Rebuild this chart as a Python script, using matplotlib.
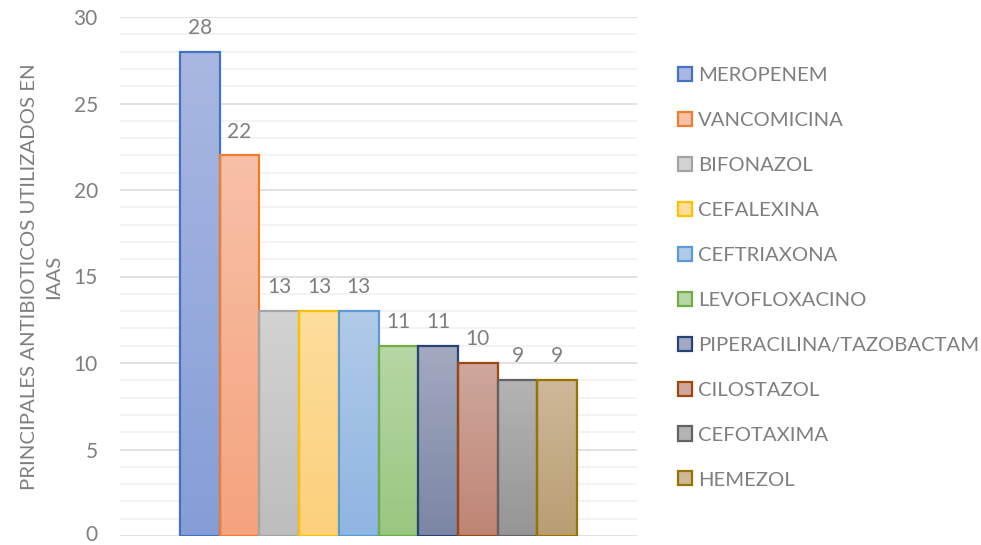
import numpy as np
import matplotlib
matplotlib.use("Agg")
import matplotlib.pyplot as plt
from matplotlib.patches import Patch
from matplotlib.colors import to_rgb
from matplotlib.transforms import ScaledTranslation

# Antibiotics and usage counts
antibioticos = ["MEROPENEM", "VANCOMICINA", "BIFONAZOL", "CEFALEXINA", "CEFTRIAXONA",
                "LEVOFLOXACINO", "PIPERACILINA/TAZOBACTAM", "CILOSTAZOL", "CEFOTAXIMA", "HEMEZOL"]
valores = [28, 22, 13, 13, 13, 11, 11, 10, 9, 9]

# Outline colours and gradient fills (top, bottom)
bordes = ["#4472C4", "#ED7D31", "#A5A5A5", "#FFC000", "#5B9BD5",
          "#70AD47", "#264478", "#9E480E", "#636363", "#997300"]
relleno_sup = ["#A9B8E2", "#F8C0A6", "#D3D3D3", "#FDDE9C", "#B1CAE8",
               "#B6D7A6", "#A3A9C0", "#CFA79C", "#B4B4B4", "#CDB899"]
relleno_inf = ["#859ED7", "#F5A37E", "#BDBDBD", "#FCD07C", "#8FB5E2",
               "#9AC77F", "#7B86A4", "#BE8574", "#959595", "#B99E74"]

texto = "#7F7F7F"
plt.rcParams["font.family"] = ["Lato", "DejaVu Sans"]

fig = plt.figure(figsize=(9.81, 5.45), dpi=100)
ax = fig.add_axes([120 / 981, 9 / 545, 517 / 981, 519 / 545])

n = len(valores)
x = np.arange(n)
pad = 1.51

# Gridlines: minor every 1, major every 5
for v in range(0, 31):
    if v % 5 == 0:
        ax.axhline(v, color="#D9D9D9", lw=1.1, zorder=0)
    else:
        ax.axhline(v, color="#F0F0F0", lw=1.1, zorder=0)

for i, (xi, v) in enumerate(zip(x, valores)):
    top = np.array(to_rgb(relleno_sup[i]))
    bot = np.array(to_rgb(relleno_inf[i]))
    t = np.linspace(0, 1, 256)[:, None]
    grad = (top * (1 - t) + bot * t)[:, None, :]
    rect = ax.bar(xi, v, width=1.0, facecolor="none", edgecolor=bordes[i],
                  linewidth=1.6, zorder=3)[0]
    im = ax.imshow(grad, extent=[xi - 0.5, xi + 0.5, 0, v], aspect="auto",
                   origin="upper", zorder=2, interpolation="bilinear")
    im.set_clip_path(rect)
    ax.text(xi, v + 0.8, str(v), ha="center", va="bottom", fontsize=15, color=texto)

ax.set_xlim(-0.5 - pad, n - 0.5 + pad)
ax.set_ylim(0, 30)
ax.set_yticks(range(0, 31, 5))
ax.set_xticks([])
ax.tick_params(axis="y", length=0, labelsize=15, labelcolor=texto, pad=16)
for s in ax.spines.values():
    s.set_visible(False)

# keep the bottom tick label clear of the figure edge
lbl0 = ax.get_yticklabels()[0]
lbl0.set_transform(lbl0.get_transform() + ScaledTranslation(0, 2 / 72, fig.dpi_scale_trans))

ax.set_ylabel("PRINCIPALES ANTIBIOTICOS UTILIZADOS EN\nIAAS", fontsize=14.7,
              color=texto, labelpad=8, linespacing=1.5)

handles = [Patch(facecolor=relleno_sup[i], edgecolor=bordes[i], linewidth=1.6)
           for i in range(n)]
fig.legend(handles, antibioticos, loc="upper left", bbox_to_anchor=(668 / 981, 1 - 57 / 545),
           frameon=False, fontsize=14.6, labelcolor=texto, labelspacing=1.37,
           handlelength=0.69, handleheight=0.69, handletextpad=0.3, borderpad=0)

fig.savefig("out.png", dpi=100)
